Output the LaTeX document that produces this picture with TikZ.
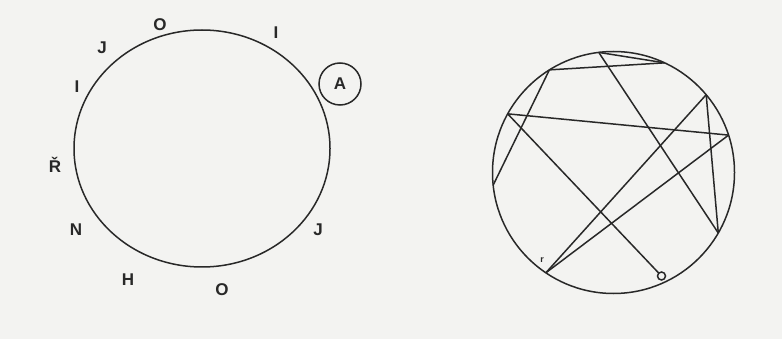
\documentclass[tikz,border=0pt]{standalone}
\usepackage{fontspec}
\setmainfont{Liberation Sans}
\usetikzlibrary{shapes.geometric}
\definecolor{paper}{RGB}{243,243,241}
\definecolor{ink}{RGB}{40,40,40}
\begin{document}
\begin{tikzpicture}[x=1pt,y=-1pt,
  lbl/.style={text=ink,font=\fontsize{17}{17}\selectfont\bfseries,inner sep=0pt},
  ln/.style={draw=ink,line width=1.5pt}]
\fill[paper] (0,0) rectangle (782,339);
\useasboundingbox (0,0) rectangle (782,339);
% left ellipse
\node[ln,ellipse,inner sep=0pt,outer sep=0pt,minimum width=256pt,minimum height=237pt] (L) at (202,148.5) {};
\node[lbl] (o1) at (160,25) {O};
\node[lbl] (i1) at (276,33) {I};
\node[lbl] (j1) at (102,48) {J};
\node[lbl] (i2) at (77,87) {I};
\node[lbl] (r1) at (55,165) {Ř};
\node[lbl] (n1) at (76,230) {N};
\node[lbl] (j2) at (318,230) {J};
\node[lbl] (h1) at (128,280) {H};
\node[lbl] (o2) at (222,290) {O};
\node[lbl,draw=ink,line width=1.5pt,circle,minimum size=42pt] (a1) at (340,84) {A};
% right circle
\node[ln,circle,inner sep=0pt,outer sep=0pt,minimum size=242pt] (R) at (613.5,172.5) {};
\coordinate (p1) at (R.97.3);
\coordinate (p2) at (R.65.8);
\coordinate (p3) at (R.122.7);
\coordinate (p4) at (R.151.7);
\coordinate (p5) at (R.186.8);
\coordinate (p6) at (R.40.5);
\coordinate (p7) at (R.18.3);
\coordinate (p8) at (R.-30);
\coordinate (p9) at (R.236);
\node[ln,circle,inner sep=0pt,outer sep=0pt,minimum size=8pt] (p10) at (661.5,276) {};
\node[text=ink,font=\fontsize{9}{9}\selectfont\bfseries,inner sep=0pt] (rr) at (542,260) {r};
\draw[ln] (p1) -- (p2);
\draw[ln] (p3) -- (p2);
\draw[ln] (p3) -- (p5);
\draw[ln] (p1) -- (p8);
\draw[ln] (p4) -- (p7);
\draw[ln] (p4) -- (p10);
\draw[ln] (p6) -- (p8);
\draw[ln] (p6) -- (p9);
\draw[ln] (p7) -- (p9);
\end{tikzpicture}
\end{document}
